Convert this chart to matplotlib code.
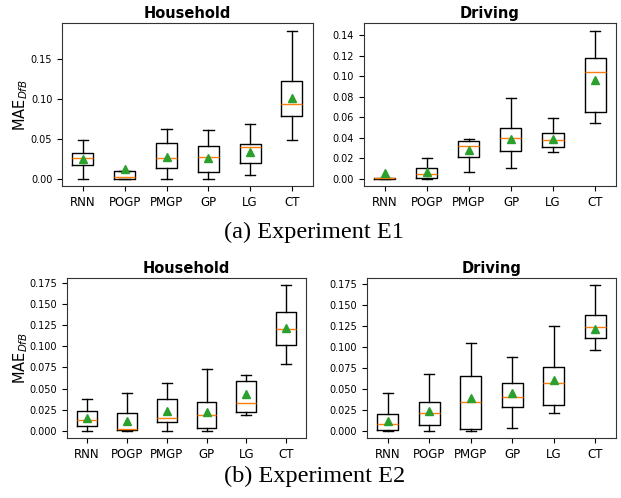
import matplotlib
matplotlib.use("Agg")
import matplotlib.pyplot as plt
from matplotlib.ticker import FormatStrFormatter

methods = ["RNN", "POGP", "PMGP", "GP", "LG", "CT"]

# Experiment E1 - Household
e1_house_whislo = [0.0, 0.0, 0.0, 0.0, 0.0046, 0.048]
e1_house_q1 = [0.0176, 0.0, 0.013, 0.0088, 0.0197, 0.0786]
e1_house_med = [0.0265, 0.002, 0.0256, 0.0277, 0.0395, 0.0937]
e1_house_q3 = [0.032, 0.010, 0.045, 0.041, 0.044, 0.123]
e1_house_whishi = [0.048, 0.010, 0.0626, 0.061, 0.069, 0.186]
e1_house_mean = [0.024, 0.0126, 0.0277, 0.0265, 0.0336, 0.1008]

# Experiment E1 - Driving
e1_drive_whislo = [0.0, 0.0, 0.0065, 0.0101, 0.0258, 0.0542]
e1_drive_q1 = [0.0, 0.0007, 0.0212, 0.0274, 0.031, 0.0649]
e1_drive_med = [0.0004, 0.0049, 0.0323, 0.0392, 0.0372, 0.1037]
e1_drive_q3 = [0.0009, 0.0108, 0.0365, 0.049, 0.0447, 0.1175]
e1_drive_whishi = [0.001, 0.0202, 0.0385, 0.079, 0.0594, 0.1445]
e1_drive_mean = [0.0052, 0.0065, 0.0277, 0.039, 0.039, 0.0962]

# Experiment E2 - Household
e2_house_whislo = [0.0, 0.0, 0.0, 0.0, 0.0185, 0.0794]
e2_house_q1 = [0.0059, 0.0004, 0.0098, 0.0035, 0.0224, 0.1019]
e2_house_med = [0.013, 0.002, 0.0146, 0.0189, 0.033, 0.12]
e2_house_q3 = [0.0232, 0.0205, 0.0374, 0.0342, 0.0586, 0.1412]
e2_house_whishi = [0.037, 0.0448, 0.0566, 0.0731, 0.066, 0.1722]
e2_house_mean = [0.0146, 0.0118, 0.0228, 0.0216, 0.044, 0.1219]

# Experiment E2 - Driving
e2_drive_whislo = [0.0, 0.0, 0.0, 0.0028, 0.0206, 0.0966]
e2_drive_q1 = [0.0004, 0.0063, 0.0016, 0.0289, 0.0313, 0.1109]
e2_drive_med = [0.0083, 0.0206, 0.0344, 0.0408, 0.057, 0.1235]
e2_drive_q3 = [0.0198, 0.0337, 0.065, 0.057, 0.0764, 0.1386]
e2_drive_whishi = [0.0451, 0.0673, 0.1045, 0.0879, 0.1255, 0.1735]
e2_drive_mean = [0.0119, 0.0234, 0.0396, 0.0451, 0.0606, 0.122]


def make_stats(whislo, q1, med, q3, whishi, mean):
    stats = []
    for i, name in enumerate(methods):
        stats.append(dict(label=name, whislo=whislo[i], q1=q1[i], med=med[i],
                          q3=q3[i], whishi=whishi[i], mean=mean[i], fliers=[]))
    return stats


fig = plt.figure(figsize=(6.21, 4.98), dpi=100)

panels = [
    ([0.0998, 0.6265, 0.404, 0.327], "Household",
     make_stats(e1_house_whislo, e1_house_q1, e1_house_med, e1_house_q3, e1_house_whishi, e1_house_mean), True, "%.2f"),
    ([0.586, 0.6265, 0.406, 0.327], "Driving",
     make_stats(e1_drive_whislo, e1_drive_q1, e1_drive_med, e1_drive_q3, e1_drive_whishi, e1_drive_mean), False, "%.2f"),
    ([0.108, 0.1205, 0.385, 0.321], "Household",
     make_stats(e2_house_whislo, e2_house_q1, e2_house_med, e2_house_q3, e2_house_whishi, e2_house_mean), True, "%.3f"),
    ([0.591, 0.1205, 0.401, 0.321], "Driving",
     make_stats(e2_drive_whislo, e2_drive_q1, e2_drive_med, e2_drive_q3, e2_drive_whishi, e2_drive_mean), False, "%.3f"),
]

for rect, title, stats, ylab, fmt in panels:
    ax = fig.add_axes(rect)
    ax.bxp(stats, showmeans=True, showfliers=False,
           meanprops=dict(marker="^", markerfacecolor="#2ca02c", markeredgecolor="#2ca02c", markersize=6),
           medianprops=dict(color="#ff7f0e", linewidth=1.0))
    ax.set_title(title, fontsize=10.5, fontweight="bold", pad=4)
    ax.tick_params(axis="x", labelsize=8.5, length=3.5)
    ax.tick_params(axis="y", labelsize=7, length=3.5)
    ax.yaxis.set_major_formatter(FormatStrFormatter(fmt))
    for s in ax.spines.values():
        s.set_color("#333333")
    if ylab:
        ax.set_ylabel(r"MAE$_{DfB}$", fontsize=10.5)
        left_px = rect[0] * 621
        ax.yaxis.set_label_coords(-(left_px - 30) / (rect[2] * 621), 0.5)

fig.text(0.506, 0.534, "(a) Experiment E1", ha="center", va="center",
         fontsize=17.5, family=["Liberation Serif", "DejaVu Serif"])
fig.text(0.506, 0.044, "(b) Experiment E2", ha="center", va="center",
         fontsize=17.5, family=["Liberation Serif", "DejaVu Serif"])

fig.savefig("out.png", dpi=100)
